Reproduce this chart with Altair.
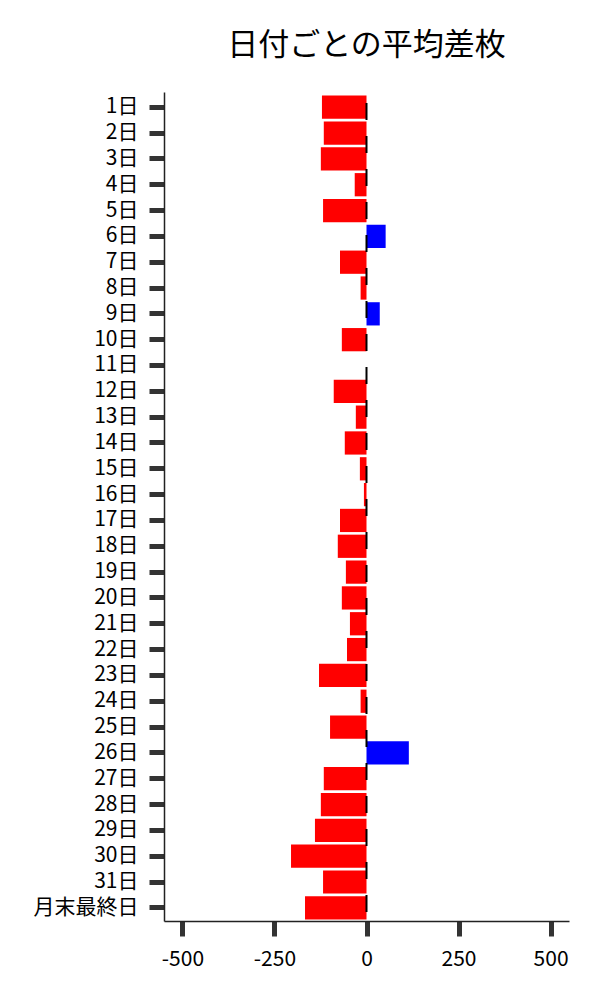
import altair as alt
import pandas as pd

days = [f"{i}日" for i in range(1, 32)] + ["月末最終日"]
values = [-121, -116, -124, -32, -118, 52, -72, -16, 36, -67,
          0, -89, -29, -59, -18, -7, -72, -78, -56, -67,
          -45, -53, -129, -16, -99, 115, -116, -124, -140, -205,
          -118, -167]
ticks_x = [-500, -250, 0, 250, 500]

df = pd.DataFrame({"day": days, "value": values})
zero_df = pd.DataFrame({"z": [0]})

FONT = "Noto Sans CJK JP"

x_enc = alt.X(
    "value:Q",
    scale=alt.Scale(domain=[-550, 550], nice=False, zero=False),
    axis=alt.Axis(
        values=ticks_x,
        title=None,
        grid=False,
        labelFlush=False,
        labelPadding=12,
        labelExpr="replace(datum.label, '−', '-')",
    ),
)

bars = alt.Chart(df).mark_bar().encode(
    y=alt.Y(
        "day:N",
        sort=days,
        scale=alt.Scale(paddingInner=0.1, paddingOuter=0.1, align=0.7),
        axis=alt.Axis(title=None, grid=False, labelPadding=11),
    ),
    x=x_enc,
    color=alt.condition("datum.value > 0", alt.value("#0000ff"), alt.value("#ff0000")),
)

rule = alt.Chart(zero_df).mark_rule(
    color="black", strokeWidth=2, strokeDash=[17, 16], strokeDashOffset=22
).encode(
    x=alt.X("z:Q"),
    y=alt.value(0),
    y2=alt.value(829),
)

chart = (
    alt.layer(bars, rule)
    .properties(
        width=405,
        height=829,
        autosize="none",
        padding={"left": 156, "top": 84, "right": 23, "bottom": 60},
        title=alt.TitleParams(
            "日付ごとの平均差枚",
            fontSize=31,
            font=FONT,
            fontWeight="normal",
            anchor="middle",
            offset=29,
            color="black",
        ),
    )
    .configure_view(stroke=None)
    .configure_axis(
        labelFont=FONT,
        labelFontSize=21,
        labelColor="black",
        domainColor="#222",
        domainWidth=1.5,
        tickColor="#333",
        tickWidth=5,
        tickSize=15,
    )
)

chart.save("out.html", embed_options={"renderer": "svg", "actions": False})
